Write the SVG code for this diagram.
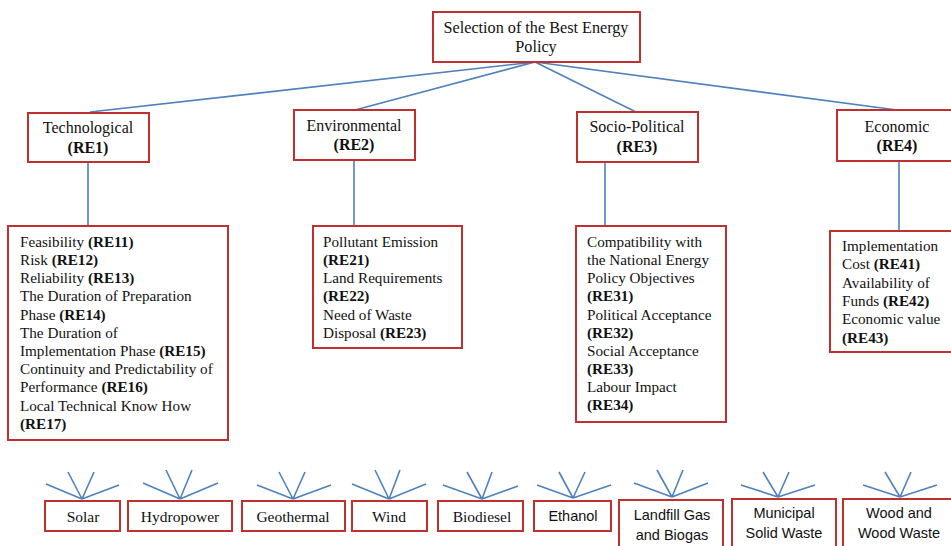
<svg xmlns="http://www.w3.org/2000/svg" width="951" height="546" viewBox="0 0 951 546">
<style>
.box{fill:#fff;stroke:#C0302E;stroke-width:2}
.ln{stroke:#4F81BD;stroke-width:1.6;fill:none}
.t{font-family:"Liberation Serif","Times New Roman",serif;fill:#111}
.h{font-size:16px;text-anchor:middle}
.d{font-size:15.2px}
.b{font-weight:bold}
.s{font-family:"Liberation Sans",Arial,sans-serif;font-size:14.5px;fill:#111;text-anchor:middle}
.bl{font-size:15.5px;text-anchor:middle}
</style>
<rect width="951" height="546" fill="#fff"/>
<g id="connectors">
<path class="ln" d="M535 62L90 112M535 62L355 110M535 62L636 112M535 62L897 110"/>
<path class="ln" d="M88 162V226M354 161V226M605 162V226M899 161V231"/>
<path class="ln" d="M82 499L46 484M82 499L68 472M82 499L94 472M82 499L119 485"/>
<path class="ln" d="M180 499L143 483M180 499L166 470M180 499L192 470M180 499L218 483"/>
<path class="ln" d="M293 499L257 485M293 499L279 472M293 499L305 472M293 499L331 485"/>
<path class="ln" d="M389 499L352 484M389 499L375 470M389 499L400 470M389 499L426 484"/>
<path class="ln" d="M482 499L443 485M482 499L467 472M482 499L492 472M482 499L518 486"/>
<path class="ln" d="M573 498L537 485M573 498L559 472M573 498L585 472M573 498L611 485"/>
<path class="ln" d="M672 497L634 483M672 497L657 470M672 497L683 470M672 497L708 483"/>
<path class="ln" d="M778 497L741 485M778 497L763 472M778 497L789 472M778 497L815 485"/>
<path class="ln" d="M900 497L863 485M900 497L885 472M900 497L911 472M900 497L937 485"/>
</g>
<g id="goal">
<rect class="box" x="433" y="12" width="207" height="50"/>
<text class="t" x="536" y="33" font-size="16.2" text-anchor="middle">Selection of the Best Energy</text>
<text class="t" x="536" y="52" font-size="16.2" text-anchor="middle">Policy</text>
</g>
<g id="re1">
<rect class="box" x="28" y="113" width="121" height="49"/>
<text class="t h" x="88" y="133">Technological</text>
<text class="t h b" x="88" y="153">(RE1)</text>
</g>
<g id="re2">
<rect class="box" x="294" y="110" width="121" height="50"/>
<text class="t h" x="354" y="131">Environmental</text>
<text class="t h b" x="354" y="150">(RE2)</text>
</g>
<g id="re3">
<rect class="box" x="577" y="112" width="121" height="50"/>
<text class="t h" x="637" y="132">Socio-Political</text>
<text class="t h b" x="637" y="152">(RE3)</text>
</g>
<g id="re4">
<rect class="box" x="837" y="110" width="120" height="51"/>
<text class="t h" x="897" y="132">Economic</text>
<text class="t h b" x="897" y="151">(RE4)</text>
</g>
<g id="re1-details">
<rect class="box" x="8" y="226" width="220" height="214"/>
<text class="t d" x="20" y="247">Feasibility <tspan class="b">(RE11)</tspan></text>
<text class="t d" x="20" y="265">Risk <tspan class="b">(RE12)</tspan></text>
<text class="t d" x="20" y="283">Reliability <tspan class="b">(RE13)</tspan></text>
<text class="t d" x="20" y="301">The Duration of Preparation</text>
<text class="t d" x="20" y="320">Phase <tspan class="b">(RE14)</tspan></text>
<text class="t d" x="20" y="338">The Duration of</text>
<text class="t d" x="20" y="356">Implementation Phase <tspan class="b">(RE15)</tspan></text>
<text class="t d" x="20" y="374">Continuity and Predictability of</text>
<text class="t d" x="20" y="392">Performance <tspan class="b">(RE16)</tspan></text>
<text class="t d" x="20" y="411">Local Technical Know How</text>
<text class="t d b" x="20" y="429">(RE17)</text>
</g>
<g id="re2-details">
<rect class="box" x="313" y="226" width="149" height="122"/>
<text class="t d" x="323" y="247">Pollutant Emission</text>
<text class="t d b" x="323" y="265">(RE21)</text>
<text class="t d" x="323" y="283">Land Requirements</text>
<text class="t d b" x="323" y="301">(RE22)</text>
<text class="t d" x="323" y="320">Need of Waste</text>
<text class="t d" x="323" y="338">Disposal <tspan class="b">(RE23)</tspan></text>
</g>
<g id="re3-details">
<rect class="box" x="576" y="226" width="150" height="196"/>
<text class="t d" x="587" y="247">Compatibility with</text>
<text class="t d" x="587" y="265">the National Energy</text>
<text class="t d" x="587" y="283">Policy Objectives</text>
<text class="t d b" x="587" y="301">(RE31)</text>
<text class="t d" x="587" y="320">Political Acceptance</text>
<text class="t d b" x="587" y="338">(RE32)</text>
<text class="t d" x="587" y="356">Social Acceptance</text>
<text class="t d b" x="587" y="374">(RE33)</text>
<text class="t d" x="587" y="392">Labour Impact</text>
<text class="t d b" x="587" y="410">(RE34)</text>
</g>
<g id="re4-details">
<rect class="box" x="830" y="231" width="130" height="121"/>
<text class="t d" x="842" y="251">Implementation</text>
<text class="t d" x="842" y="269">Cost <tspan class="b">(RE41)</tspan></text>
<text class="t d" x="842" y="288">Availability of</text>
<text class="t d" x="842" y="306">Funds <tspan class="b">(RE42)</tspan></text>
<text class="t d" x="842" y="324">Economic value</text>
<text class="t d b" x="842" y="343">(RE43)</text>
</g>
<g id="solar">
<rect class="box" x="45" y="501" width="75" height="30"/>
<text class="t bl" x="83" y="522">Solar</text>
</g>
<g id="hydropower">
<rect class="box" x="128" y="501" width="104" height="30"/>
<text class="t bl" x="180" y="522">Hydropower</text>
</g>
<g id="geothermal">
<rect class="box" x="242" y="501" width="103" height="30"/>
<text class="t bl" x="293" y="522">Geothermal</text>
</g>
<g id="wind">
<rect class="box" x="352" y="501" width="75" height="30"/>
<text class="t bl" x="389" y="522">Wind</text>
</g>
<g id="biodiesel">
<rect class="box" x="438" y="501" width="85" height="30"/>
<text class="t bl" x="482" y="522">Biodiesel</text>
</g>
<g id="ethanol">
<rect class="box" x="534" y="501" width="77" height="30"/>
<text class="s" x="573" y="521">Ethanol</text>
</g>
<g id="landfill">
<rect class="box" x="619" y="500" width="104" height="52"/>
<text class="s" x="672" y="520">Landfill Gas</text>
<text class="s" x="672" y="540">and Biogas</text>
</g>
<g id="msw">
<rect class="box" x="732" y="499" width="104" height="53"/>
<text class="s" x="784" y="518">Municipal</text>
<text class="s" x="784" y="538">Solid Waste</text>
</g>
<g id="wood">
<rect class="box" x="843" y="499" width="110" height="53"/>
<text class="s" x="899" y="518">Wood and</text>
<text class="s" x="899" y="538">Wood Waste</text>
</g>
</svg>
